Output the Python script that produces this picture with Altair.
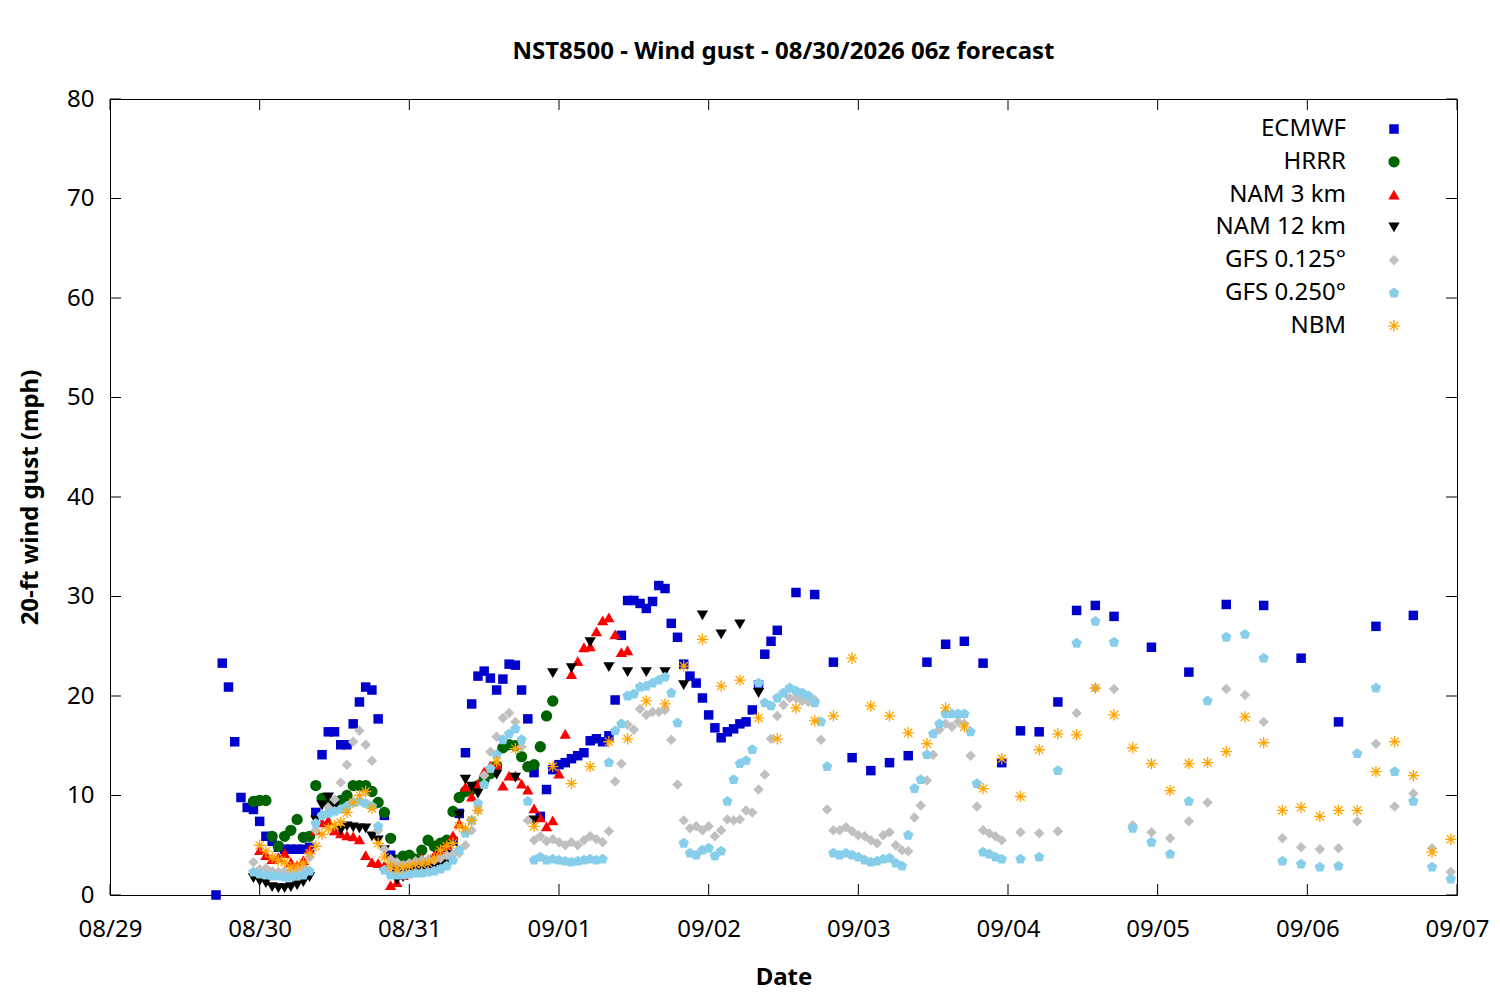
import altair as alt
import pandas as pd

# ---------------- data (hours since 08/29 00:00, wind gust mph) ----------------
date_labels = ["08/29", "08/30", "08/31", "09/01", "09/02", "09/03", "09/04", "09/05", "09/06", "09/07"]
x_tick_hours = [0, 24, 48, 72, 96, 120, 144, 168, 192, 216]
y_tick_values = [0, 10, 20, 30, 40, 50, 60, 70, 80]

ecmwf_hours = list(range(17, 108)) + list(range(110, 162, 3)) + list(range(167, 210, 6))
ecmwf_vals = [
    0.0, 23.3, 20.9, 15.4, 9.8, 8.8, 8.6, 7.4, 5.9, 5.4,
    4.8, 4.6, 4.6, 4.6, 4.6, 4.8, 8.3, 14.1, 16.4, 16.4,
    15.1, 15.1, 17.2, 19.4, 20.9, 20.6, 17.7, 8.0, 4.0, 2.5,
    2.3, 2.4, 2.6, 2.8, 3.0, 3.5, 4.2, 4.7, 5.4, 8.2,
    14.3, 19.2, 22.0, 22.5, 21.8, 20.6, 21.7, 23.2, 23.1, 20.6,
    17.7, 12.3, 7.9, 10.6, 12.6, 13.1, 13.3, 13.7, 14.0, 14.3,
    15.5, 15.7, 15.4, 16.0, 19.6, 26.1, 29.6, 29.6, 29.3, 28.8,
    29.5, 31.1, 30.8, 27.3, 25.9, 23.2, 22.0, 21.3, 19.8, 18.1,
    16.8, 15.8, 16.4, 16.7, 17.2, 17.4, 18.6, 21.1, 24.2, 25.5,
    26.6,
    30.4, 30.2, 23.4, 13.8, 12.5, 13.3, 14.0, 23.4, 25.2, 25.5,
    23.3, 13.3, 16.5, 16.4, 19.4, 28.6, 29.1, 28.0,
    24.9, 22.4, 29.2, 29.1, 23.8, 17.4, 27.0, 28.1,
]

hrrr_hours = list(range(23, 72))
hrrr_vals = [
    9.4, 9.5, 9.5, 5.9, 4.9, 5.9, 6.5, 7.6, 5.8, 5.9,
    11.0, 9.7, 9.4, 9.0, 9.5, 10.0, 11.0, 11.0, 11.0, 10.4,
    9.3, 8.3, 5.7, 3.5, 3.9, 4.0, 3.6, 4.5, 5.5, 4.9,
    5.2, 5.5, 8.4, 9.8, 10.4, 10.6, 11.0, 11.6, 12.2, 13.0,
    14.8, 15.1, 15.0, 13.9, 12.9, 13.1, 14.9, 18.0, 19.5,
]

nam3_hours = list(range(24, 84))
nam3_vals = [
    4.5, 4.0, 3.6, 3.8, 4.2, 3.3, 3.0, 3.5, 4.6, 6.5,
    7.3, 7.5, 6.5, 6.2, 6.0, 5.9, 5.6, 4.0, 3.3, 3.2,
    3.0, 1.0, 1.3, 2.0, 2.5, 3.0, 3.7, 3.5, 4.0, 4.5,
    5.0, 6.0, 7.2, 10.9, 9.9, 11.2, 12.4, 13.0, 13.1, 11.0,
    12.0, 12.0, 11.2, 10.6, 8.7, 7.8, 6.9, 7.5, 12.2, 16.2,
    22.2, 23.5, 24.9, 25.0, 26.5, 27.6, 27.9, 26.2, 24.4, 24.6,
]

nam12_hours = list(range(23, 60)) + list(range(62, 105, 3))
nam12_vals = [
    1.7, 1.4, 1.2, 0.8, 0.7, 0.7, 0.8, 1.0, 1.3, 1.8,
    7.5, 9.0, 9.8, 8.9, 6.5, 6.9, 6.8, 6.7, 6.7, 5.9,
    5.5, 4.5, 3.5, 1.5, 1.8, 2.2, 2.5, 2.7, 2.9, 3.0,
    3.1, 3.3, 4.0, 8.0, 11.6, 10.9, 10.2,
    12.1, 11.8, 7.5, 22.3, 22.8, 25.4, 22.9, 22.4, 22.4, 22.4,
    21.1, 28.1, 26.2, 27.2, 20.3,
]

gfs_hours = list(range(23, 144)) + list(range(146, 216, 3))
gfs125_vals = [
    3.3, 2.6, 2.7, 2.4, 2.3, 2.4, 2.3, 2.5, 2.8, 3.8,
    6.5, 8.0, 8.8, 9.6, 11.3, 13.1, 15.4, 16.5, 15.1, 13.5,
    6.5, 4.6, 3.6, 3.3, 3.0, 3.2, 3.4, 3.5, 3.6, 3.5,
    3.7, 4.0, 4.1, 4.2, 5.0, 6.5, 8.5, 12.0, 14.4, 15.9,
    17.8, 18.3, 17.4, 14.9, 7.5, 5.5, 5.9, 5.4, 5.6, 5.3,
    5.0, 5.3, 5.0, 5.5, 5.9, 5.6, 5.3, 6.4, 11.4, 13.2,
    17.1, 16.6, 18.7, 18.1, 18.4, 18.4, 18.6, 15.6, 11.1, 7.5,
    6.7, 6.9, 6.5, 6.9, 5.9, 6.5, 7.6, 7.5, 7.6, 8.5,
    8.3, 10.6, 12.1, 15.7, 18.0, 19.1, 19.8, 19.8, 19.5, 19.4,
    19.6, 15.6, 8.6, 6.5, 6.5, 6.8, 6.4, 6.0, 5.9, 5.5,
    5.2, 6.0, 6.3, 5.0, 4.5, 4.4, 7.8, 9.0, 11.5, 14.1,
    16.6, 17.2, 16.9, 17.4, 17.2, 14.0, 8.9, 6.5, 6.2, 5.9,
    5.5,
    6.3, 6.2, 6.4, 18.3, 20.8, 20.7, 7.0, 6.3, 5.7, 7.4,
    9.3, 20.7, 20.1, 17.4, 5.7, 4.8, 4.6, 4.7, 7.4, 15.2,
    8.9, 10.2, 4.7, 2.3,
]
gfs250_vals = [
    2.3, 2.1, 2.0, 1.9, 1.9, 1.8, 1.8, 1.9, 2.0, 2.4,
    7.2, 8.0, 8.2, 8.4, 8.6, 8.9, 9.3, 9.4, 9.2, 8.9,
    6.9, 2.5, 2.0, 2.0, 2.0, 2.1, 2.2, 2.2, 2.3, 2.4,
    2.6, 2.9, 3.5, 4.5, 6.2, 7.5, 9.2, 11.1, 12.7, 14.1,
    15.6, 16.2, 16.7, 15.6, 9.4, 3.5, 3.8, 3.5, 3.6, 3.5,
    3.4, 3.3, 3.4, 3.5, 3.6, 3.5, 3.6, 13.3, 16.5, 17.2,
    20.0, 20.2, 20.9, 21.0, 21.3, 21.6, 21.9, 20.3, 17.3, 5.2,
    4.2, 4.0, 4.5, 4.7, 3.9, 4.4, 9.4, 11.6, 13.2, 13.5,
    14.6, 21.3, 19.3, 19.0, 19.8, 20.3, 20.8, 20.5, 20.3, 20.0,
    19.3, 17.4, 12.9, 4.2, 4.0, 4.2, 4.0, 3.8, 3.5, 3.3,
    3.4, 3.6, 3.7, 3.2, 2.9, 6.0, 10.7, 11.6, 14.1, 16.2,
    17.2, 18.2, 18.2, 18.2, 18.2, 16.4, 11.2, 4.3, 4.1, 3.8,
    3.6,
    3.6, 3.8, 12.5, 25.3, 27.5, 25.4, 6.7, 5.3, 4.1, 9.4,
    19.5, 25.9, 26.2, 23.8, 3.4, 3.1, 2.8, 2.9, 14.2, 20.8,
    12.4, 9.4, 2.8, 1.6,
]

nbm_hours = list(range(24, 60)) + list(range(62, 216, 3))
nbm_vals = [
    5.0, 4.4, 3.8, 3.5, 3.3, 2.8, 2.9, 3.2, 4.2, 4.9,
    6.1, 6.7, 7.0, 7.3, 8.3, 9.3, 10.0, 10.4, 8.7, 5.2,
    3.8, 2.9, 2.6, 2.8, 2.9, 3.1, 3.1, 3.2, 3.7, 4.5,
    4.9, 5.2, 6.9, 6.7, 7.5, 8.5,
    13.4, 14.7, 6.9, 12.9, 11.2, 12.9, 15.4, 15.7, 19.5, 19.2,
    23.0, 25.7, 21.0, 21.6, 17.8, 15.7, 18.8, 17.5, 18.0, 23.8,
    19.0, 18.0, 16.3, 15.2, 18.8, 16.9, 10.7, 13.7, 9.9, 14.6,
    16.2, 16.1, 20.8, 18.1, 14.8, 13.2, 10.5, 13.2, 13.3, 14.4,
    17.9, 15.3, 8.5, 8.8, 7.9, 8.5, 8.5, 12.4, 15.4, 12.0,
    4.3, 5.6,
]

series_names = ["ECMWF", "HRRR", "NAM 3 km", "NAM 12 km", "GFS 0.125°", "GFS 0.250°", "NBM"]
series_data = [
    (ecmwf_hours, ecmwf_vals),
    (hrrr_hours, hrrr_vals),
    (nam3_hours, nam3_vals),
    (nam12_hours, nam12_vals),
    (gfs_hours, gfs125_vals),
    (gfs_hours, gfs250_vals),
    (nbm_hours, nbm_vals),
]

# ---------------- styles ----------------
PENTAGON = "M0,-1L0.951,-0.309L0.588,0.809L-0.588,0.809L-0.951,-0.309Z"
STAR = "M0,-1L0,1M-1,0L1,0M-0.72,-0.72L0.72,0.72M-0.72,0.72L0.72,-0.72"
styles = [
    dict(shape="square", color="#0000cc", size=90, filled=True),
    dict(shape="circle", color="#006400", size=128, filled=True),
    dict(shape="triangle-up", color="#ff0000", size=128, filled=True),
    dict(shape="triangle-down", color="#000000", size=128, filled=True),
    dict(shape="diamond", color="#c0c0c0", size=110, filled=True),
    dict(shape=PENTAGON, color="#87ceeb", size=118, filled=True),
    dict(shape=STAR, color="#ffa500", size=130, filled=False),
]

W, H = 1347, 796
FONT = "Noto Sans"
FS = 24

x_scale = alt.Scale(domain=[0, 216], nice=False, zero=False)
y_scale = alt.Scale(domain=[0, 80], nice=False, zero=False)

label_expr = "[" + ",".join("'%s'" % d for d in date_labels) + "][round(datum.value / 24)]"

x_axis = alt.Axis(values=x_tick_hours, labelExpr=label_expr, title="Date",
                  labelFontSize=FS, labelPadding=22, titleFontSize=FS, titleFontWeight="bold",
                  titlePadding=24, labelFlush=False, labelOverlap=False)
y_axis = alt.Axis(values=y_tick_values, title="20-ft wind gust (mph)",
                  labelFontSize=FS, labelPadding=16, titleFontSize=FS, titleFontWeight="bold",
                  titlePadding=24, labelOverlap=False)

X = alt.X("h:Q", scale=x_scale, axis=x_axis)
Y = alt.Y("v:Q", scale=y_scale, axis=y_axis)

layers = []
for i, (name, (hrs, vals), st) in enumerate(zip(series_names, series_data, styles)):
    df = pd.DataFrame({"h": hrs, "v": vals, "model": name})
    mark_kwargs = dict(shape=st["shape"], size=st["size"], opacity=1)
    if st["filled"]:
        mark_kwargs.update(filled=True, fill=st["color"], strokeWidth=0)
    else:
        mark_kwargs.update(filled=False, stroke=st["color"], strokeWidth=1.3)
    layers.append(alt.Chart(df).mark_point(**mark_kwargs).encode(x=X, y=Y))

# tick marks (inward, mirrored on all four sides)
xt = pd.DataFrame({"h": x_tick_hours})
yt = pd.DataFrame({"v": y_tick_values})
TL = 11
layers.append(alt.Chart(xt).mark_rule(color="black", strokeWidth=1).encode(
    x=X, y=alt.value(H - TL), y2=alt.value(H)))
layers.append(alt.Chart(xt).mark_rule(color="black", strokeWidth=1).encode(
    x=X, y=alt.value(0), y2=alt.value(TL)))
layers.append(alt.Chart(yt).mark_rule(color="black", strokeWidth=1).encode(
    y=Y, x=alt.value(0), x2=alt.value(TL)))
layers.append(alt.Chart(yt).mark_rule(color="black", strokeWidth=1).encode(
    y=Y, x=alt.value(W - TL), x2=alt.value(W)))

# legend (gnuplot style: label then symbol, top right)
LEG_TEXT_X = 1236
LEG_SYM_X = 1284
LEG_Y0 = 30
LEG_DY = 32.8
for i, (name, st) in enumerate(zip(series_names, styles)):
    ldf = pd.DataFrame({"model": [name]})
    mk = dict(shape=st["shape"], size=st["size"], opacity=1)
    if st["filled"]:
        mk.update(filled=True, fill=st["color"], strokeWidth=0)
    else:
        mk.update(filled=False, stroke=st["color"], strokeWidth=1.3)
    layers.append(alt.Chart(ldf).mark_point(**mk).encode(
        x=alt.value(LEG_SYM_X), y=alt.value(LEG_Y0 + i * LEG_DY)))
    layers.append(alt.Chart(ldf).mark_text(align="right", baseline="middle", fontSize=FS,
                                           font=FONT, color="black").encode(
        text="model:N", x=alt.value(LEG_TEXT_X), y=alt.value(LEG_Y0 + i * LEG_DY)))

chart = alt.layer(*layers).properties(
    width=W, height=H,
    title=alt.Title("NST8500 - Wind gust - 08/30/2026 06z forecast",
                    fontSize=FS, fontWeight="bold", font=FONT, color="black",
                    anchor="middle", offset=23),
    padding={"left": 102, "top": 91, "right": 35, "bottom": 97},
    autosize=alt.AutoSizeParams(type="none"),
    background="white",
).configure_view(
    stroke="black", strokeWidth=1
).configure_axis(
    domain=False, grid=False, ticks=False,
    labelFont=FONT, titleFont=FONT, labelColor="black", titleColor="black",
)

chart.save("out.html", embed_options={"renderer": "svg", "actions": False})
